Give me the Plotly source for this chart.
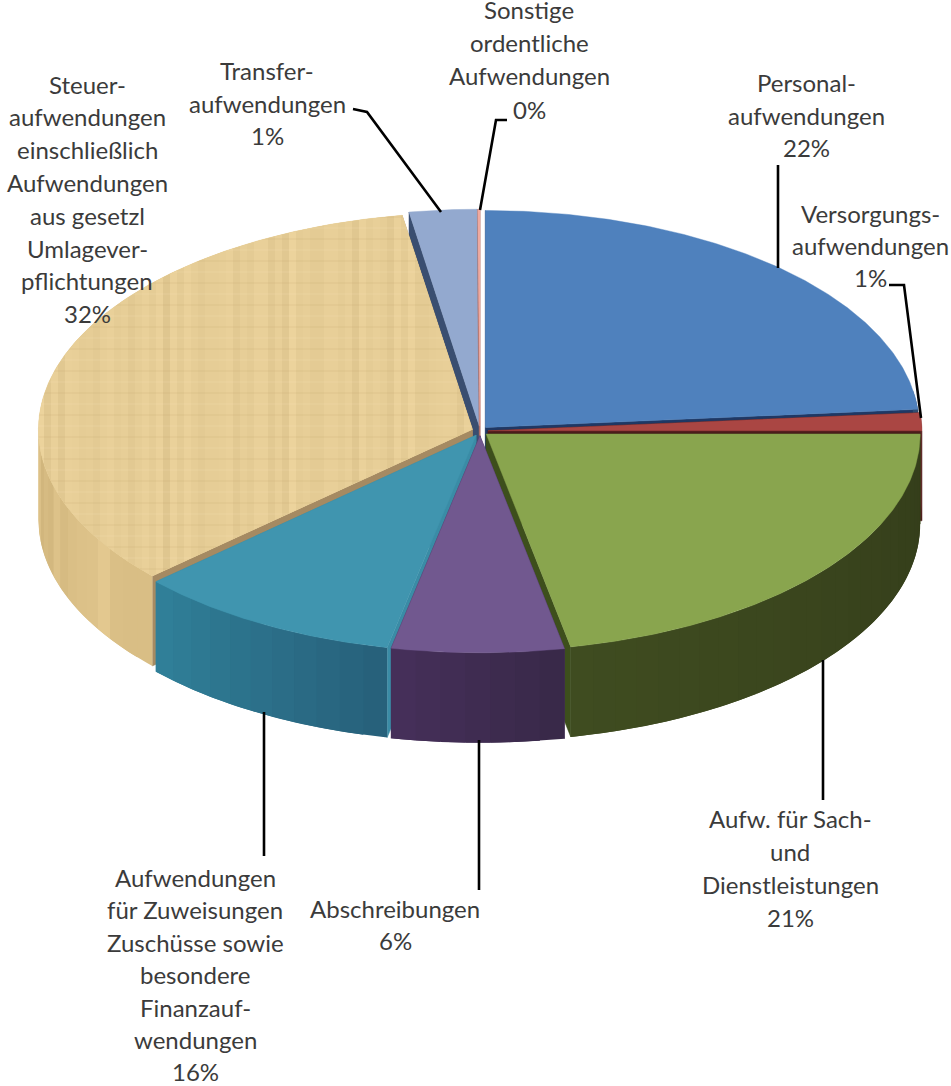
import numpy as np
import plotly.graph_objects as go

# ---- data ----
slice_names = ["Personal", "Versorgung", "Sach", "Abschreibungen", "Zuweisungen", "Steuer", "Transfer", "Sonstige"]
drawn_shares = [23.67, 1.33, 21.88, 6.4, 9.92, 34.21, 2.51, 0.08]   # share of the drawn circle, percent
label_lines = {
    "Personal": ["Personal-", "aufwendungen", "22%"],
    "Versorgung": ["Versorgungs-", "aufwendungen", "1%"],
    "Sach": ["Aufw. für Sach-", "und", "Dienstleistungen", "21%"],
    "Abschreibungen": ["Abschreibungen", "6%"],
    "Zuweisungen": ["Aufwendungen", "für Zuweisungen", "Zuschüsse sowie", "besondere", "Finanzauf-", "wendungen", "16%"],
    "Steuer": ["Steuer-", "aufwendungen", "einschließlich", "Aufwendungen", "aus gesetzl", "Umlagever-", "pflichtungen", "32%"],
    "Transfer": ["Transfer-", "aufwendungen", "1%"],
    "Sonstige": ["Sonstige", "ordentliche", "Aufwendungen", "0%"],
}

# ---- styling / layout ----
W, H = 951, 1086
CX, CY, RX, RY, DEPTH, EXPLODE = 480, 431, 434, 217, 90, 8
top_colors = dict(Personal="#4F81BD", Versorgung="#AA4643", Sach="#89A54E", Abschreibungen="#71588F",
                  Zuweisungen="#4095AF", Steuer="#E6CD96", Transfer="#93A9CF", Sonstige="#EFA99F")
wall_left = dict(Personal="#2F4D71", Versorgung="#66302E", Sach="#3F4C20", Abschreibungen="#46305A",
                 Zuweisungen="#308099", Steuer="#D9BE85", Transfer="#4A5F80", Sonstige="#B07068")
wall_right = dict(Personal="#2F4D71", Versorgung="#5E2A28", Sach="#343D1A", Abschreibungen="#382848",
                  Zuweisungen="#27607A", Steuer="#C8A870", Transfer="#4A5F80", Sonstige="#B07068")
face_colors = dict(Personal="#1F3864", Versorgung="#4A1C1A", Sach="#3D4F1C", Abschreibungen="#46305A",
                   Zuweisungen="#3A8CA6", Steuer="#A58A62", Transfer="#3A4E70", Sonstige="#B07068")
draw_order = ["Transfer", "Sonstige", "Personal", "Versorgung", "Steuer", "Sach", "Zuweisungen", "Abschreibungen"]
label_pos = dict(  # centre x, y of first line, line step
    Personal=(806, 82.5, 32.5), Versorgung=(870, 213.5, 32), Sach=(790, 818.5, 33), Abschreibungen=(395, 908.5, 32),
    Zuweisungen=(195, 877.5, 32.4), Steuer=(87, 84, 32.8), Transfer=(267, 70.5, 32.5), Sonstige=(529, 9.5, 33.2))
leaders = [[(778, 165), (778, 268)], [(889, 285), (904, 285), (921, 418)], [(823, 660), (823, 800)],
           [(264, 712), (264, 856)], [(479, 740), (479, 890)], [(507, 120), (496, 120), (480, 210)],
           [(353, 109), (367, 112), (441, 212)]]


def hex2rgb(h):
    return np.array([int(h[i:i + 2], 16) for i in (1, 3, 5)], float)


def mix(a, b, t):
    c = hex2rgb(a) * (1 - t) + hex2rgb(b) * t
    return "rgb(%d,%d,%d)" % tuple(c.round())


def clip_x(poly, lo, hi):
    def cut(pts, inside, xb):
        out = []
        for i in range(len(pts)):
            p, q = pts[i], pts[(i + 1) % len(pts)]
            if inside(p):
                out.append(p)
            if inside(p) != inside(q):
                t = (xb - p[0]) / (q[0] - p[0])
                out.append((xb, p[1] + t * (q[1] - p[1])))
        return out
    pts = cut(list(poly), lambda p: p[0] >= lo, lo)
    return cut(pts, lambda p: p[0] <= hi, hi) if pts else []


fig = go.Figure()


def polygon(pts, color, lw=0.0, op=1.0):
    xs = [p[0] for p in pts] + [pts[0][0]]
    ys = [p[1] for p in pts] + [pts[0][1]]
    fig.add_trace(go.Scatter(x=xs, y=ys, mode="lines", fill="toself", fillcolor=color, opacity=op,
                             line=dict(color=color, width=lw), hoverinfo="skip", showlegend=False))


ends = np.cumsum(drawn_shares) * 3.6
starts = ends - np.array(drawn_shares) * 3.6
span = {n: (s, e) for n, s, e in zip(slice_names, starts, ends)}


def rim(c, a):
    r = np.radians(a)
    return (c[0] + RX * np.sin(r), c[1] - RY * np.cos(r))


def tone(x):
    return 3 * np.sin(x * 0.53) + 2.2 * np.sin(x * 1.37 + 1) + 2 * np.sin(x * 0.17 + 2)


for name in draw_order:
    a0, a1 = span[name]
    mid = np.radians((a0 + a1) / 2)
    c = (CX + EXPLODE * np.sin(mid), CY - 0.6 * EXPLODE * np.cos(mid))
    low = lambda p: (p[0], p[1] + DEPTH)
    # cut faces
    for a in (a0, a1):
        r = rim(c, a)
        polygon([c, r, low(r), low(c)], face_colors[name], lw=0.5)
    # outer wall, narrow overlapping strips so that it can be shaded without seams
    w0, w1 = max(a0, 80), min(a1, 270)
    if w1 > w0:
        steps = max(1, int((w1 - w0) / 3))
        grid = np.linspace(w0, w1, steps + 1)
        for k in range(steps):
            fine = np.linspace(grid[k], grid[min(k + 2, steps)], 6)
            top = [rim(c, a) for a in fine]
            t = 1 - (k + 0.5) / steps
            col = mix(wall_left[name], wall_right[name], t)
            if name == "Steuer":
                rgb = hex2rgb(wall_left[name]) + tone(top[0][0]) * 1.5
                col = "rgb(%d,%d,%d)" % tuple(rgb.round())
            polygon(top + [low(p) for p in reversed(top)], col)
    # top surface
    arc = [rim(c, a) for a in np.linspace(a0, a1, max(3, int(a1 - a0) * 2))]
    wedge = [c] + arc
    polygon(wedge, top_colors[name], lw=0.4)
    if name == "Steuer":
        # papyrus weave: overlapping vertical bands, then faint horizontal ones
        for x0 in np.arange(30, 480, 7):
            strip = clip_x(wedge, x0, x0 + 14)
            if len(strip) > 2:
                rgb = hex2rgb(top_colors[name]) + tone(x0)
                polygon(strip, "rgb(%d,%d,%d)" % tuple(rgb.round()))
        swapped = [(p[1], p[0]) for p in wedge]
        for y0 in np.arange(205, 590, 11):
            strip = clip_x(swapped, y0, y0 + 2)
            if len(strip) > 2:
                shade = "#FFF0C8" if int(y0) % 2 else "#B89A60"
                polygon([(p[1], p[0]) for p in strip], shade, op=0.10)

for line in leaders:
    fig.add_trace(go.Scatter(x=[p[0] for p in line], y=[p[1] for p in line], mode="lines",
                             line=dict(color="#000000", width=2.6), hoverinfo="skip", showlegend=False))

anns = []
for name, lines in label_lines.items():
    x, y, step = label_pos[name]
    for i, txt in enumerate(lines):
        anns.append(dict(x=x, y=y + i * step, text=txt, showarrow=False, xanchor="center", yanchor="middle",
                         font=dict(family="Lato", size=24, color="#3B3B3B")))

fig.update_layout(width=W, height=H, margin=dict(l=0, r=0, t=0, b=0), paper_bgcolor="white", plot_bgcolor="white",
                  showlegend=False, annotations=anns,
                  xaxis=dict(range=[0, W], visible=False, fixedrange=True),
                  yaxis=dict(range=[H, 0], visible=False, fixedrange=True))
fig.write_html("out.html", config=dict(displayModeBar=False),
               post_script="document.body.style.margin='0';document.body.style.overflow='hidden';")
